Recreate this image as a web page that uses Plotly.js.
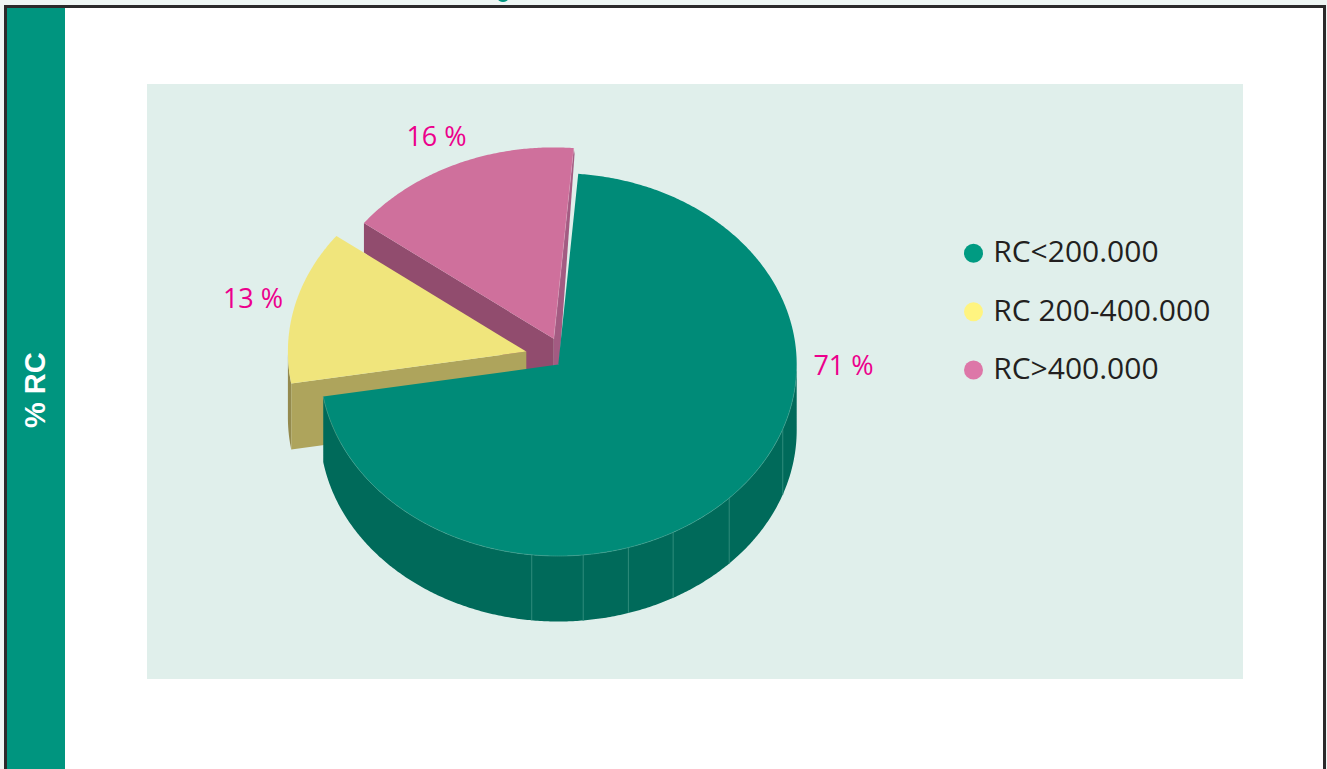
<!DOCTYPE html>
<html>
<head>
<meta charset="utf-8">
<script src="https://cdn.plot.ly/plotly-3.0.1.min.js"></script>
<style>html,body{margin:0;padding:0;background:#eef6f4;overflow:hidden}</style>
</head>
<body>
<div id="chart" style="width:1327px;height:769px"></div>
<script>
// ---- data ----
const categories = ['RC<200.000', 'RC 200-400.000', 'RC>400.000'];
const shares = [71, 13, 16];
const sideTitle = '% RC';

// ---- style and layout ----
const topColors = ['#008b78', '#f0e57c', '#cf709c'];
const wallColors = ['#006a5a', '#aea45c', '#914c6e'];
const legendColors = ['#009b82', '#fff480', '#dd77a8'];
const apexes = [[558.3, 364.6], [526.3, 351.6], [553.8, 338.8]];
const depths = [65.5, 66, 29.5];
const labelPositions = [[436.5, 139.5], [253, 301.5], [843.5, 368.5]];
const labelOrder = [2, 1, 0];
const legendRows = [253.3, 311.7, 370];
const seamAngles = [186.4, 174, 162.9, 151.2, 134.2, 109.7];
const RX = 238.4, RY = 191.4, START = 4.8;

// angles come from the shares, clockwise from the top
const bounds = [];
shares.reduce((a, v) => { bounds.push([a, a + v * 3.6]); return a + v * 3.6; }, START);

const pt = (c, deg, dy = 0) => {
  const r = deg * Math.PI / 180;
  return [c[0] + RX * Math.sin(r), c[1] - RY * Math.cos(r) + dy];
};
const arc = (c, a, b, dy = 0) => {
  const n = Math.max(2, Math.ceil(Math.abs(b - a) * 2)), out = [];
  for (let i = 0; i <= n; i++) out.push(pt(c, a + (b - a) * i / n, dy));
  return out;
};
const poly = (pts, color) => ({
  type: 'scatter', mode: 'lines', x: pts.map(p => p[0]), y: pts.map(p => p[1]),
  fill: 'toself', fillcolor: color, line: {width: 0, color: color, simplify: false},
  hoverinfo: 'skip', showlegend: false
});
const stroke = (pts, color, w) => ({
  type: 'scatter', mode: 'lines', x: pts.map(p => p ? p[0] : null), y: pts.map(p => p ? p[1] : null),
  line: {width: w, color: color, simplify: false}, hoverinfo: 'skip', showlegend: false
});
const sector = i => poly([apexes[i], ...arc(apexes[i], bounds[i][0], bounds[i][1])], topColors[i]);
const down = (p, d) => [p[0], p[1] + d];

const traces = [];

// pink slice: walls then top
(() => {
  const i = 2, c = apexes[i], d = depths[i];
  const left = pt(c, bounds[i][0]), right = pt(c, bounds[i][1]);
  traces.push(poly([left, c, down(c, d), [apexes[1][0], c[1] + d + 4], down(left, d)], wallColors[i]));
  traces.push(poly([right, c, down(c, d), [c[0] + 5.5, c[1] + 25], [right[0] + 0.8, right[1] + 6]], '#a35b82'));
  traces.push(sector(i));
  traces.push(stroke([right, c], 'rgba(230,180,204,0.6)', 0.5));
})();

// yellow slice: walls then top
(() => {
  const i = 1, c = apexes[i], d = depths[i];
  const left = pt(c, bounds[i][0]);
  traces.push(poly([...arc(c, bounds[i][0], 270), ...arc(c, 270, bounds[i][0], d)], '#948a4e'));
  traces.push(poly([left, c, down(c, d), down(left, d)], wallColors[i]));
  traces.push(sector(i));
})();

// green slice: front wall, seams, top, rim
(() => {
  const i = 0, c = apexes[i], d = depths[i];
  traces.push(poly([...arc(c, 90, bounds[i][1]), ...arc(c, bounds[i][1], 90, d)], wallColors[i]));
  const seams = [];
  seamAngles.forEach(a => seams.push(pt(c, a), pt(c, a, d), null));
  traces.push(stroke(seams, '#2f8c7c', 1));
  traces.push(sector(i));
  traces.push(stroke(arc(c, 92, bounds[i][1]), '#3f9f8e', 0.7));
})();

// percentage labels
traces.push({
  type: 'scatter', mode: 'text', x: labelPositions.map(p => p[0]), y: labelPositions.map(p => p[1]),
  text: labelOrder.map(i => shares[i] + ' %'), textposition: 'middle center',
  textfont: {family: '"Open Sans", sans-serif', size: 27, color: '#ec008c'},
  hoverinfo: 'skip', showlegend: false
});

// key
categories.forEach((name, i) => {
  traces.push({
    type: 'scatter', mode: 'markers', name: name, x: [973.5], y: [legendRows[i]],
    marker: {size: 19, color: legendColors[i], line: {width: 0}},
    hoverinfo: 'name', showlegend: false
  });
  traces.push({
    type: 'scatter', mode: 'text', x: [993.2], y: [legendRows[i] + 1.5], text: [name],
    textposition: 'middle right',
    textfont: {family: '"Open Sans", sans-serif', size: 30, color: '#231f20'},
    hoverinfo: 'skip', showlegend: false
  });
});

const layout = {
  width: 1327, height: 769,
  margin: {l: 0, r: 0, t: 0, b: 0, pad: 0},
  paper_bgcolor: '#eef6f4', plot_bgcolor: 'rgba(0,0,0,0)',
  showlegend: false,
  xaxis: {range: [0, 1327], visible: false, fixedrange: true},
  yaxis: {range: [769, 0], visible: false, fixedrange: true},
  shapes: [
    {type: 'rect', layer: 'below', xref: 'x', yref: 'y', x0: 5.5, x1: 1324.5, y0: 6.5, y1: 790,
      fillcolor: '#ffffff', line: {color: '#2b2a2b', width: 3}},
    {type: 'rect', layer: 'below', xref: 'x', yref: 'y', x0: 7, x1: 65, y0: 8, y1: 769,
      fillcolor: '#00957f', line: {width: 0}},
    {type: 'rect', layer: 'below', xref: 'x', yref: 'y', x0: 147, x1: 1243, y0: 84, y1: 679,
      fillcolor: '#e0efeb', line: {width: 0}},
    {type: 'circle', layer: 'above', xref: 'x', yref: 'y', x0: 498, x1: 508, y0: -4, y1: 2,
      fillcolor: '#00957f', line: {width: 0}}
  ],
  annotations: [{
    text: '<b>' + sideTitle + '</b>', xref: 'x', yref: 'y', x: 35, y: 390,
    showarrow: false, textangle: -90,
    font: {family: '"Liberation Sans", Arial, sans-serif', size: 29, color: '#ffffff'}
  }]
};

Plotly.newPlot('chart', traces, layout, {displayModeBar: false, staticPlot: true});
</script>
</body>
</html>
